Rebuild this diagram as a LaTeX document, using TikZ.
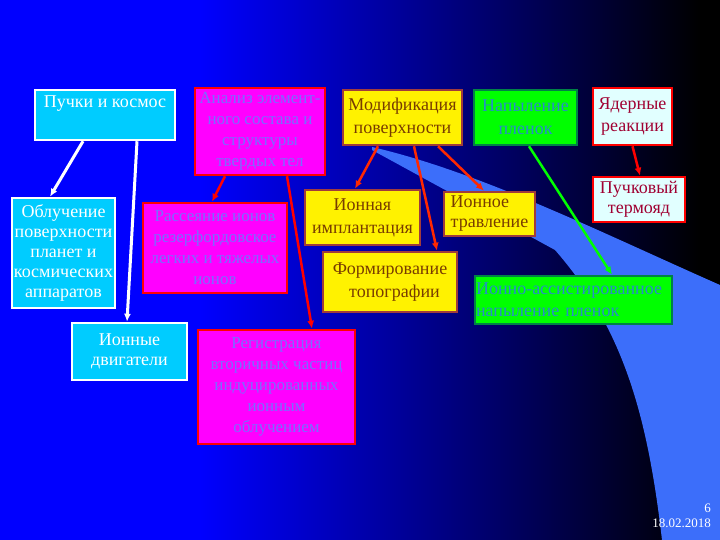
\documentclass[tikz,border=0pt]{standalone}
\usepackage{fontspec}
\setmainfont{Liberation Serif}
\usepackage{tikz}
\usetikzlibrary{arrows.meta,positioning}

\definecolor{skycyan}{RGB}{0,204,255}
\definecolor{pinkfill}{RGB}{255,0,255}
\definecolor{pinktext}{RGB}{120,110,255}
\definecolor{yelborder}{RGB}{160,60,60}
\definecolor{browntext}{RGB}{120,60,0}
\definecolor{greenborder}{RGB}{0,130,70}
\definecolor{tealtext}{RGB}{40,140,200}
\definecolor{palecyan}{RGB}{225,255,255}
\definecolor{wine}{RGB}{160,0,50}
\definecolor{bandblue}{RGB}{60,110,250}
\definecolor{arrowred}{RGB}{255,40,0}
\definecolor{deepblue}{RGB}{0,0,255}

\begin{document}
\begin{tikzpicture}[
    x=1bp, y=-1bp,
    box/.style={rectangle,draw,line width=2.5bp,align=center,inner sep=1bp,
      font=\fontsize{18bp}{20bp}\selectfont},
    spacebox/.style={box,fill=skycyan,draw=white,text=white},
    pinkbox/.style={box,fill=pinkfill,draw=red,text=pinktext,
      font=\fontsize{17bp}{21bp}\selectfont},
    yelbox/.style={box,fill=yellow,draw=yelborder,text=browntext,
      font=\fontsize{18bp}{23bp}\selectfont},
    greenbox/.style={box,fill=green,draw=greenborder,text=tealtext,
      font=\fontsize{18bp}{23bp}\selectfont},
    nuclbox/.style={box,fill=palecyan,draw=red,text=wine,
      font=\fontsize{18bp}{22bp}\selectfont},
    whitearrow/.style={-{Latex[length=8bp,width=7bp]},white,line width=3bp},
    pinkarrow/.style={-{Latex[length=8bp,width=7bp]},red,line width=2.5bp},
    yelarrow/.style={-{Latex[length=8bp,width=7bp]},arrowred,line width=2.5bp},
    greenarrow/.style={-{Latex[length=8bp,width=7bp]},green,line width=2.5bp}
]
% background
\fill[deepblue] (0,0) rectangle (200,540);
\shade[left color=deepblue,right color=black] (200,0) rectangle (700,540);
\fill[black] (700,0) rectangle (720,540);
\fill[bandblue] (372,147) .. controls (480,172) and (600,232) .. (720,285)
  -- (720,540) -- (662,540)
  .. controls (648,420) and (625,330) .. (555,250) -- (372,150) -- cycle;

% beams and space
\node[spacebox, minimum width=140bp, minimum height=50bp, text depth=27bp] (beams) at (105,115) {Пучки и космос};
\node[spacebox, minimum width=103bp, minimum height=110bp] (irrad) at (63.5,253) {Облучение\\поверхности\\планет и\\космических\\аппаратов};
\node[spacebox, minimum width=115bp, minimum height=57bp] (engines) at (129.5,351.5) {Ионные\\двигатели};

% analysis
\node[pinkbox, minimum width=130bp, minimum height=87bp] (analysis) at (260,131.5) {Анализ элемент-\\ного состава и\\структуры\\твердых тел};
\node[pinkbox, minimum width=144bp, minimum height=90bp] (scatter) at (215,248) {Рассеяние ионов\\резерфордовское\\легких и тяжелых\\ионов};
\node[pinkbox, minimum width=157bp, minimum height=114bp] (secondary) at (276.5,387) {Регистрация\\вторичных частиц\\индуцированных\\ионным\\облучением};

% modification
\node[yelbox, minimum width=119bp, minimum height=55bp] (modif) at (402.5,117.5) {Модификация\\поверхности};
\node[yelbox, minimum width=115bp, minimum height=55bp] (implant) at (362.5,217.5) {Ионная\\имплантация};
\node[yelbox, minimum width=91bp, minimum height=44bp, align=left, font=\fontsize{18bp}{20bp}\selectfont] (etch) at (489.5,214) {Ионное\\травление};
\node[yelbox, minimum width=134bp, minimum height=60bp, font=\fontsize{18bp}{23bp}\selectfont] (relief) at (390,282) {Формирование\\\ \ топографии};

% films
\node[greenbox, minimum width=103bp, minimum height=55bp] (films) at (525.5,117.5) {Напыление\\пленок};
\node[greenbox, minimum width=197bp, minimum height=48bp, text width=195bp, align=left, font=\fontsize{18bp}{22bp}\selectfont] (assist) at (573.5,300) {Ионно-ассистированное\\напыление пленок};

% nuclear
\node[nuclbox, minimum width=79bp, minimum height=57bp] (nuclear) at (632.5,116.5) {Ядерные\\реакции};
\node[nuclbox, minimum width=92bp, minimum height=45bp, font=\fontsize{18bp}{20bp}\selectfont] (fusion) at (639,199.5) {Пучковый\\термояд};

% slide number and date
\node[text=white, align=right, anchor=north east, inner sep=0pt,
  font=\fontsize{13bp}{15bp}\selectfont] (date) at (711,504) {6\\18.02.2018};

\draw[whitearrow] ([xshift=-22bp]beams.south) -- ([xshift=-13.5bp]irrad.north);
\draw[whitearrow] ([xshift=32bp]beams.south) -- ([xshift=-2.5bp]engines.north);
\draw[pinkarrow] ([xshift=-35bp]analysis.south) -- ([xshift=-3bp]scatter.north);
\draw[pinkarrow] ([xshift=27bp]analysis.south) -- ([xshift=35.5bp]secondary.north);
\draw[yelarrow] ([xshift=-24.5bp]modif.south) -- ([xshift=-7.5bp]implant.north);
\draw[yelarrow] ([xshift=11.5bp]modif.south) -- ([xshift=47bp]relief.north);
\draw[yelarrow] ([xshift=35.5bp]modif.south) -- ([xshift=-5.5bp]etch.north);
\draw[greenarrow] ([xshift=3.5bp]films.south) -- ([xshift=38.5bp]assist.north);
\draw[pinkarrow] (nuclear.south) -- ([xshift=1bp]fusion.north);
\end{tikzpicture}
\end{document}
